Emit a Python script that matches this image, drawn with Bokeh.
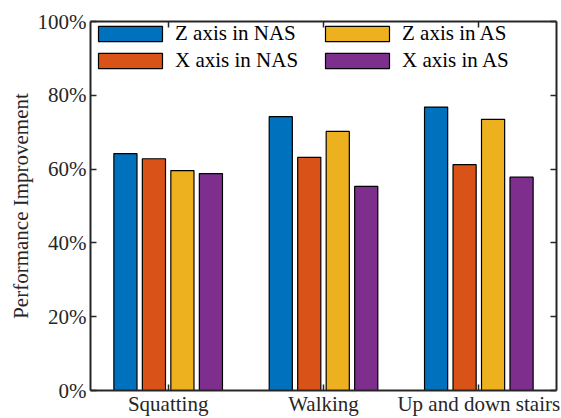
from bokeh.plotting import figure
from bokeh.models import (Range1d, LinearAxis, FixedTicker, PrintfTickFormatter,
                          Legend, LegendItem, ColumnDataSource)
from bokeh.transform import dodge
from bokeh.embed import file_html
from bokeh.resources import INLINE

# Performance improvement (%) per activity for each axis / scheme
activities = ["Squatting", "Walking", "Up and down stairs"]
z_axis_nas = [64.2, 74.2, 76.8]
x_axis_nas = [62.8, 63.2, 61.2]
z_axis_as = [59.6, 70.2, 73.5]
x_axis_as = [58.8, 55.3, 57.8]
series_names = ["Z axis in NAS", "X axis in NAS", "Z axis in AS", "X axis in AS"]
y_ticks = [0, 20, 40, 60, 80, 100]

colors = ["#0072BD", "#D95319", "#EDB120", "#7E2F8E"]
FONT = "Liberation Serif"
AX = "#262626"

n = len(activities)
positions = list(range(1, n + 1))
src = ColumnDataSource(dict(pos=positions, zn=z_axis_nas, xn=x_axis_nas,
                            za=z_axis_as, xa=x_axis_as))

p = figure(x_range=Range1d(0.5, n + 0.5), y_range=Range1d(0, 100),
           width=561, height=418, output_backend="svg", toolbar_location=None,
           min_border_left=90, min_border_right=5, min_border_top=21,
           min_border_bottom=20)
p.outline_line_color = None
p.xgrid.grid_line_color = None
p.ygrid.grid_line_color = None
p.background_fill_color = "white"

pitch = 0.1834
bar_w = 0.149
cols = ["zn", "xn", "za", "xa"]
renderers = []
for i, (c, col) in enumerate(zip(cols, colors)):
    off = (i - 1.5) * pitch
    r = p.vbar(x=dodge("pos", off), top=c, width=bar_w, source=src,
               fill_color=col, line_color="black", line_width=1.2)
    renderers.append(r)

def style_axis(ax):
    ax.axis_line_color = AX
    ax.axis_line_width = 2
    ax.major_tick_line_color = AX
    ax.major_tick_line_width = 1.5
    ax.major_tick_in = 6
    ax.major_tick_out = 0
    ax.minor_tick_line_color = None
    ax.major_label_text_font = FONT
    ax.major_label_text_color = AX
    ax.major_label_text_font_size = "21px"

# bottom axis: activity names at the group centres
xa = p.xaxis[0]
style_axis(xa)
xa.ticker = FixedTicker(ticks=positions)
xa.major_label_overrides = {k: a for k, a in zip(positions, activities)}
xa.major_label_standoff = 1

ya = p.yaxis[0]
style_axis(ya)
ya.ticker = FixedTicker(ticks=y_ticks)
ya.formatter = PrintfTickFormatter(format="%d%%")
ya.major_label_standoff = 4
ya.axis_label = "Performance Improvement"
ya.axis_label_text_font = FONT
ya.axis_label_text_font_size = "21px"
ya.axis_label_text_font_style = "normal"
ya.axis_label_text_color = AX
ya.axis_label_standoff = 2

# box axes on top and right: tick marks only
top = LinearAxis(ticker=FixedTicker(ticks=positions),
                 major_label_overrides={k: "" for k in positions})
style_axis(top)
top.major_label_standoff = 0
p.add_layout(top, "above")

right = LinearAxis(ticker=FixedTicker(ticks=y_ticks),
                   major_label_overrides={t: "" for t in y_ticks})
style_axis(right)
right.major_label_standoff = 0
p.add_layout(right, "right")

legend = Legend(items=[LegendItem(label=nm, renderers=[r])
                       for nm, r in zip(series_names, renderers)],
                location="top_left", orientation="vertical", nrows=2,
                glyph_width=80, glyph_height=19, label_standoff=5,
                label_width=140, spacing=2, padding=6, margin=0,
                label_text_font=FONT, label_text_font_size="21px",
                label_text_color="black", border_line_color=None,
                background_fill_alpha=0)
p.add_layout(legend, "center")

open("out.html", "w").write(file_html(p, INLINE))
